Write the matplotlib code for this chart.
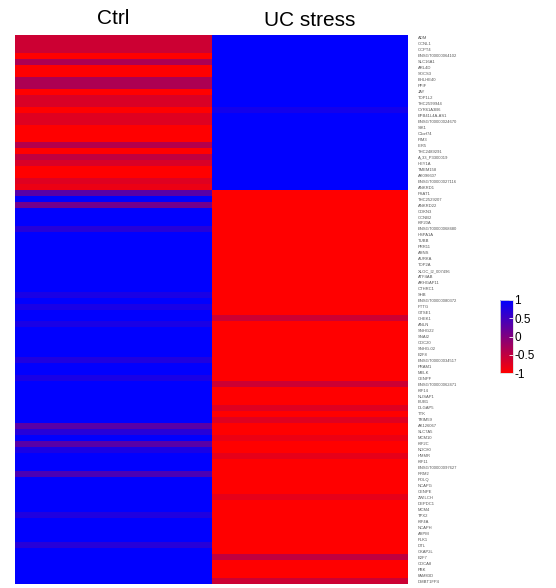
import numpy as np
import matplotlib.pyplot as plt
from matplotlib.colors import LinearSegmentedColormap

plt.rcParams['font.family'] = ['Liberation Sans', 'DejaVu Sans']

samples = ['Ctrl', 'UC stress']

genes = ['ADM', 'CCNL1', 'CCPT4', 'ENSGT00000064102', 'SLC16A1', 'ARL4D', 'SOCS3', 'BHLHE40', 'PPIF',
         'JAY', 'TOP1L2', 'THC2599944', 'CYR61A3B6', 'EPB41L4A-AS1', 'ENSGT00000024670', 'SIK1',
         'C1orf74', 'PIM3', 'IER5', 'THC2489291', 'A_33_P3300019', 'HEY1A', 'TMEM158', 'AK096607',
         'ENSGT00000027116', 'ANKRD1', 'PSAT1', 'THC2529207', 'ANKRD22', 'CDKN3', 'CCNB2', 'KIF20A',
         'ENSGT00000068480', 'HSPA1A', 'TUBB', 'PRR11', 'ASNS', 'AURKA', 'TOP2A', 'XLOC_l2_007496',
         'ATF4AB', 'ARHGAP11', 'CTHRC1', 'SHB', 'ENSGT00000080372', 'PTTG', 'GTSE1', 'CHEK1', 'ANLN',
         'SNHG22', 'SNAI2', 'CDC20', 'SNHG-02', 'E2F8', 'ENSGT00000034517', 'PRAM1', 'MELK', 'CENPF',
         'ENSGT00000062471', 'KIF14', 'NUSAP1', 'BUB1', 'DLGAP5', 'TTK', 'TRIM59', 'AK126067',
         'SLC7A5', 'MCM10', 'KIF2C', 'NDC80', 'HMMR', 'KIF11', 'ENSGT00000097627', 'RRM2', 'POLQ',
         'NCAPG', 'CENPE', 'ZWILCH', 'DEPDC1', 'MCM4', 'TPX2', 'KIF4A', 'NCAPH', 'ASPM', 'PLK1',
         'DTL', 'CKAP2L', 'E2F7', 'CDCA8', 'PBK', 'FAM83D', 'DMBT1FP4']

ctrl = [-0.6, -0.6, -0.6, -1.0, -0.35, -1.0, -1.0, -0.35, -0.35, -1.0, -0.7, -0.7, -1.0,
        -0.75, -0.75, -1.0, -1.0, -1.0, -0.4, -1.0, -0.5, -0.7, -1.0, -1.0, -0.75, -0.85,
        0.3, 1.0, 0.1, 1.0, 1.0, 1.0, 0.7, 1.0, 1.0, 1.0, 1.0, 1.0, 1.0, 1.0, 1.0, 1.0, 1.0,
        0.8, 1.0, 0.8, 1.0, 1.0, 0.8, 1.0, 1.0, 1.0, 1.0, 1.0, 0.75, 1.0, 1.0, 0.8, 1.0, 1.0,
        1.0, 1.0, 1.0, 1.0, 1.0, 0.3, 0.7, 1.0, 0.3, 0.8, 1.0, 1.0, 1.0, 0.4, 1.0, 1.0, 1.0,
        1.0, 1.0, 1.0, 0.75, 1.0, 1.0, 1.0, 1.0, 0.7, 1.0, 1.0, 1.0, 1.0, 1.0, 1.0]

uc_stress = [1.0, 1.0, 1.0, 1.0, 1.0, 1.0, 1.0, 1.0, 1.0, 1.0, 1.0, 1.0, 0.85, 1.0, 1.0,
             1.0, 1.0, 1.0, 1.0, 1.0, 1.0, 1.0, 1.0, 1.0, 1.0, 1.0,
             -1.0, -1.0, -1.0, -1.0, -1.0, -1.0, -1.0, -1.0, -1.0, -1.0, -1.0, -1.0, -1.0, -1.0,
             -1.0, -1.0, -1.0, -1.0, -1.0, -1.0, -1.0, -0.6, -1.0, -1.0, -1.0, -1.0, -1.0, -1.0,
             -1.0, -1.0, -1.0, -1.0, -0.6, -1.0, -1.0, -1.0, -0.75, -1.0, -0.75, -1.0, -1.0,
             -0.85, -1.0, -1.0, -0.8, -1.0, -1.0, -1.0, -1.0, -1.0, -1.0, -0.8, -1.0, -1.0, -1.0,
             -1.0, -1.0, -1.0, -1.0, -1.0, -1.0, -0.5, -1.0, -1.0, -1.0, -0.6]

data = np.column_stack([ctrl, uc_stress])
n_rows = data.shape[0]

cmap = LinearSegmentedColormap.from_list('rb', ['#ff0000', '#800080', '#0000ff'])

fig = plt.figure(figsize=(5.56, 5.88), dpi=100)
ax = fig.add_axes([15 / 556, 1 - 584 / 588, 393 / 556, 549 / 588])
mesh = ax.pcolormesh(data, cmap=cmap, vmin=-1, vmax=1, edgecolors='none')
ax.set_xlim(0, 2)
ax.set_ylim(n_rows, 0)
for s in ax.spines.values():
    s.set_visible(False)
ax.set_xticks([])
ax.yaxis.tick_right()
ax.set_yticks(np.arange(n_rows) + 0.5)
ax.set_yticklabels(genes[:n_rows], fontsize=3, color='#555555')
ax.tick_params(axis='y', length=0, pad=7)

fig.text(113 / 556, 1 - 19 / 588, samples[0], ha='center', va='center', fontsize=15)
fig.text(310 / 556, 1 - 21 / 588, samples[1], ha='center', va='center', fontsize=15)

cax = fig.add_axes([500 / 556, 1 - 373 / 588, 13 / 556, 73 / 588])
cb = fig.colorbar(mesh, cax=cax, ticks=[-1, -0.5, 0, 0.5, 1])
cb.outline.set_edgecolor('#dddddd')
cb.outline.set_linewidth(0.6)
cb.ax.set_yticklabels(['-1', '-0.5', '0', '0.5', '1'])
cb.ax.tick_params(labelsize=8.5, length=3, width=0.6, color='white', pad=1, direction='in')

fig.savefig('out.png', dpi=100)
